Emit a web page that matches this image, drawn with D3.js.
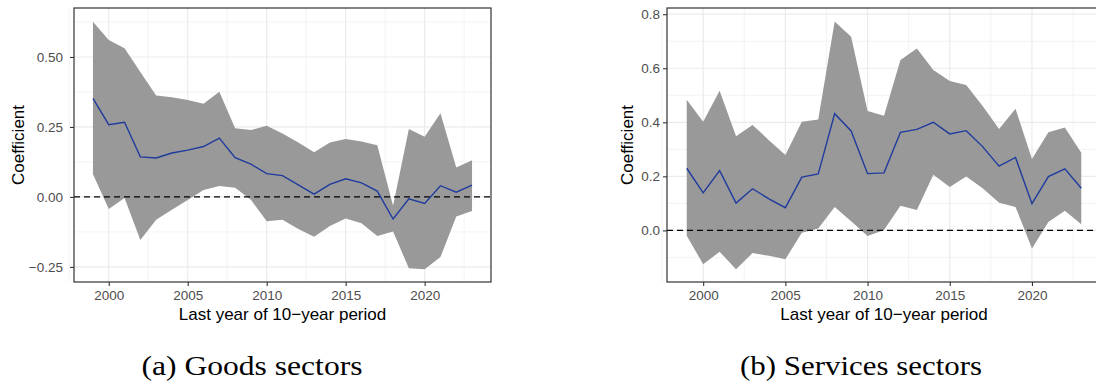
<!DOCTYPE html>
<html>
<head>
<meta charset="utf-8">
<style>
  body { margin: 0; background: #fff; }
  svg text { font-family: "Liberation Sans", Arial, sans-serif; }
  .tick text { fill: #4d4d4d; font-size: 13.5px; }
  .tick line { stroke: #333; stroke-width: 1.1; }
  .axis .domain { display: none; }
  .caption { font-family: "Liberation Serif", "DejaVu Serif", serif !important; font-size: 27px; fill: #000; }
</style>
</head>
<body>
<svg width="1096" height="383"></svg>
<script src="https://d3js.org/d3.v7.min.js"></script>
<script>

// last year of each 10-year window
var years = d3.range(1999, 2024);
var xTicks = [2000, 2005, 2010, 2015, 2020];
var xMinor = [1997.5, 2002.5, 2007.5, 2012.5, 2017.5, 2022.5];

// (a) goods sectors
var goodsCoef  = [0.352, 0.258, 0.267, 0.143, 0.139, 0.157, 0.167, 0.180, 0.210, 0.140, 0.117, 0.083,
                  0.076, 0.043, 0.010, 0.045, 0.065, 0.050, 0.021, -0.079, -0.007, -0.023, 0.040, 0.017, 0.042];
var goodsUpper = [0.626, 0.561, 0.531, 0.446, 0.362, 0.356, 0.346, 0.333, 0.376, 0.245, 0.239, 0.254,
                  0.227, 0.194, 0.160, 0.194, 0.207, 0.198, 0.185, -0.032, 0.243, 0.215, 0.299, 0.105, 0.131];
var goodsLower = [0.081, -0.043, -0.004, -0.154, -0.082, -0.046, -0.011, 0.025, 0.039, 0.033, -0.010, -0.087,
                  -0.082, -0.115, -0.142, -0.104, -0.077, -0.094, -0.140, -0.124, -0.255, -0.258, -0.215, -0.070, -0.050];
var goodsYTicks = [-0.25, 0, 0.25, 0.5];
var goodsYMinor = [-0.125, 0.125, 0.375, 0.625];

// (b) services sectors
var servCoef  = [0.230, 0.139, 0.221, 0.101, 0.154, 0.117, 0.084, 0.197, 0.209, 0.432, 0.368, 0.210,
                 0.213, 0.363, 0.374, 0.400, 0.357, 0.369, 0.310, 0.238, 0.270, 0.099, 0.199, 0.228, 0.156];
var servUpper = [0.483, 0.402, 0.517, 0.348, 0.390, 0.334, 0.279, 0.402, 0.410, 0.773, 0.717, 0.442,
                 0.424, 0.631, 0.673, 0.594, 0.553, 0.538, 0.460, 0.375, 0.450, 0.264, 0.363, 0.381, 0.287];
var servLower = [-0.020, -0.125, -0.079, -0.144, -0.084, -0.094, -0.107, -0.009, 0.007, 0.087, 0.034, -0.021,
                 0.001, 0.091, 0.075, 0.206, 0.161, 0.199, 0.156, 0.102, 0.087, -0.067, 0.031, 0.073, 0.023];
var servYTicks = [0, 0.2, 0.4, 0.6, 0.8];
var servYMinor = [-0.1, 0.1, 0.3, 0.5, 0.7];

var svg = d3.select("svg");

function panel(opt) {
  var x = d3.scaleLinear().domain([1997.8, 2024.2]).range([opt.left, opt.right]);
  var y = d3.scaleLinear().domain(opt.yDomain).range([opt.bottom, opt.top]);
  var g = svg.append("g");

  // minor grid
  g.selectAll(".gmx").data(xMinor).enter().append("line")
      .attr("x1", x).attr("x2", x).attr("y1", opt.top).attr("y2", opt.bottom)
      .attr("stroke", "#ebebeb").attr("stroke-width", 0.6);
  g.selectAll(".gmy").data(opt.yMinor).enter().append("line")
      .attr("y1", y).attr("y2", y).attr("x1", opt.left).attr("x2", opt.right)
      .attr("stroke", "#ebebeb").attr("stroke-width", 0.6);
  // major grid
  g.selectAll(".gx").data(xTicks).enter().append("line")
      .attr("x1", x).attr("x2", x).attr("y1", opt.top).attr("y2", opt.bottom)
      .attr("stroke", "#ebebeb").attr("stroke-width", 1.2);
  g.selectAll(".gy").data(opt.yTicks).enter().append("line")
      .attr("y1", y).attr("y2", y).attr("x1", opt.left).attr("x2", opt.right)
      .attr("stroke", "#ebebeb").attr("stroke-width", 1.2);

  var band = years.map(function(d, i) { return {yr: d, lo: opt.lower[i], hi: opt.upper[i], c: opt.coef[i]}; });

  g.append("path")
      .datum(band)
      .attr("fill", "#999999")
      .attr("d", d3.area().x(function(d) { return x(d.yr); })
                          .y0(function(d) { return y(d.lo); })
                          .y1(function(d) { return y(d.hi); }));

  g.append("line")
      .attr("x1", opt.left).attr("x2", opt.right)
      .attr("y1", y(0)).attr("y2", y(0))
      .attr("stroke", "#000").attr("stroke-width", 1.3)
      .attr("stroke-dasharray", "6,4");

  g.append("path")
      .datum(band)
      .attr("fill", "none")
      .attr("stroke", "#1f3b9e")
      .attr("stroke-width", 1.4)
      .attr("d", d3.line().x(function(d) { return x(d.yr); }).y(function(d) { return y(d.c); }));

  g.append("rect")
      .attr("x", opt.left).attr("y", opt.top)
      .attr("width", opt.right - opt.left).attr("height", opt.bottom - opt.top)
      .attr("fill", "none").attr("stroke", "#333").attr("stroke-width", 1.2);

  g.append("g")
      .attr("class", "axis")
      .attr("transform", "translate(0," + opt.bottom + ")")
      .call(d3.axisBottom(x).tickValues(xTicks).tickFormat(d3.format("d")).tickSize(4).tickPadding(4));

  g.append("g")
      .attr("class", "axis")
      .attr("transform", "translate(" + opt.left + ",0)")
      .call(d3.axisLeft(y).tickValues(opt.yTicks).tickFormat(opt.fmt).tickSize(4).tickPadding(opt.pad));

  g.selectAll(".tick text").text(function() { return this.textContent.replace("-", "\u2212"); });

  g.append("text")
      .attr("x", (opt.left + opt.right) / 2)
      .attr("y", 320)
      .attr("text-anchor", "middle")
      .attr("font-size", "17px")
      .text("Last year of 10\u2212year period");

  g.append("text")
      .attr("transform", "translate(" + opt.titleX + "," + ((opt.top + opt.bottom) / 2) + ") rotate(-90)")
      .attr("text-anchor", "middle")
      .attr("font-size", "17px")
      .text("Coefficient");

  svg.append("text")
      .attr("class", "caption")
      .attr("x", opt.capX - opt.capW / 2)
      .attr("y", 375)
      .attr("textLength", opt.capW)
      .attr("lengthAdjust", "spacingAndGlyphs")
      .text(opt.caption);
}

panel({
  left: 74, right: 491, top: 8, bottom: 282,
  yDomain: [-0.304, 0.675],
  yTicks: goodsYTicks, yMinor: goodsYMinor,
  fmt: d3.format(".2f"), pad: 7,
  coef: goodsCoef, lower: goodsLower, upper: goodsUpper,
  titleX: 24, capX: 252, capW: 221, caption: "(a) Goods sectors"
});

panel({
  left: 667, right: 1101, top: 8, bottom: 282,
  yDomain: [-0.191, 0.823],
  yTicks: servYTicks, yMinor: servYMinor,
  fmt: d3.format(".1f"), pad: 3,
  coef: servCoef, lower: servLower, upper: servUpper,
  titleX: 633, capX: 861, capW: 242, caption: "(b) Services sectors"
});

</script>
</body>
</html>
